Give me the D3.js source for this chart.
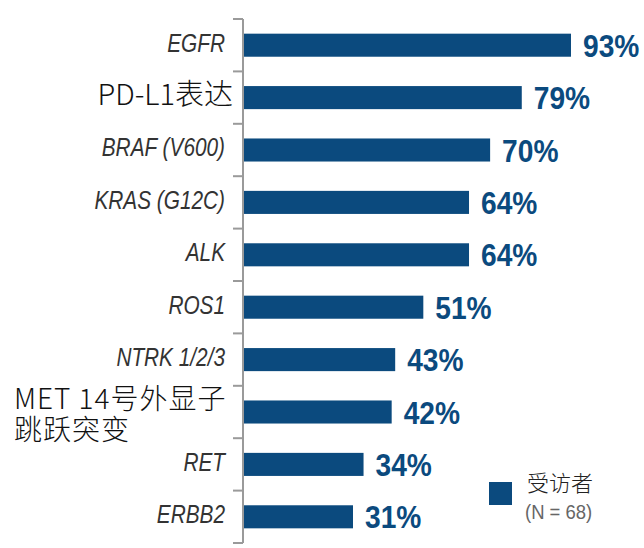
<!DOCTYPE html>
<html><head><meta charset="utf-8">
<script src="https://cdn.jsdelivr.net/npm/d3@7"></script>
<style>body{margin:0;background:#fff}</style>
</head><body>
<svg id="c" width="644" height="548"></svg>
<script>
const categories = ["EGFR","PD-L1表达","BRAF (V600)","KRAS (G12C)","ALK","ROS1","NTRK 1/2/3","MET 14号外显子\n跳跃突变","RET","ERBB2"];
const values = [93,79,70,64,64,51,43,42,34,31];
const legendLabel = "受访者";
const legendSub = "(N = 68)";

const svg = d3.select("#c");
const blue = "#0b4a7e";
const sans = "'Liberation Sans',Arial,sans-serif";
const cjk = "'Noto Sans CJK SC','Noto Sans',sans-serif";

const x = d3.scaleLinear().domain([0,100]).range([244,595.6]);
const y = d3.scaleBand().domain(categories).range([19,543]).paddingInner(0.56).paddingOuter(0.28);

// axis line + ticks
const step = y.step();
const tickYs = d3.range(categories.length+1).map(i => 19 + i*step);
svg.append("line").attr("x1",243).attr("x2",243).attr("y1",19).attr("y2",543)
  .attr("stroke","#9a9a9a").attr("stroke-width",2);
svg.selectAll(".tk").data(tickYs).join("line").attr("class","tk")
  .attr("x1",233).attr("x2",243).attr("y1",d=>d).attr("y2",d=>d)
  .attr("stroke","#9a9a9a").attr("stroke-width",2);

// bars
svg.selectAll(".bar").data(categories).join("rect").attr("class","bar")
  .attr("x",x(0)).attr("y",d=>y(d)).attr("height",y.bandwidth())
  .attr("width",(d,i)=>x(values[i])-x(0)).attr("fill",blue);

// value labels (condensed by horizontal scale)
svg.selectAll(".val").data(categories).join("text").attr("class","val")
  .attr("transform",(d,i)=>`translate(${x(values[i])+12},${y(d)+y.bandwidth()/2}) scale(0.88,1)`)
  .attr("dy","0.36em").attr("fill",blue)
  .style("font-family",sans).style("font-weight","bold").style("font-size","32px")
  .text((d,i)=>values[i]+"%");

// category labels
const isCJK = s => /[\u4e00-\u9fff]/.test(s);
categories.forEach(c => {
  const cy = y(c)+y.bandwidth()/2;
  if (isCJK(c)) {
    const lines = c.split("\n");
    if (lines.length > 1) {
      const t = svg.append("text").attr("x",15).attr("text-anchor","start")
        .style("font-family",cjk).style("font-size","28px").style("font-weight","300")
        .style("letter-spacing","1px").attr("fill","#111");
      lines.forEach((l,i)=>{
        t.append("tspan").attr("x",14).attr("y",cy + (i-(lines.length-1)/2)*31 + 2).attr("dy","0.36em").text(l);
      });
    } else {
      svg.append("text").attr("x",233).attr("y",cy-3).attr("dy","0.36em")
        .attr("text-anchor","end").style("font-family",cjk).style("font-size","29px").style("font-weight","300")
        .attr("fill","#111").text(c);
    }
  } else {
    svg.append("text").attr("transform",`translate(225,${cy-3}) scale(0.8,1)`).attr("dy","0.36em")
      .attr("text-anchor","end").style("font-family",sans).style("font-style","italic")
      .style("font-size","26px").attr("fill","#333").text(c);
  }
});

// legend
svg.append("rect").attr("x",489).attr("y",482).attr("width",23).attr("height",23).attr("fill",blue);
svg.append("text").attr("x",527).attr("y",483).attr("dy","0.36em").style("font-family",cjk)
  .style("font-size","22px").style("font-weight","300").attr("fill","#222").text(legendLabel);
svg.append("text").attr("transform","translate(525,511) scale(0.88,1)").attr("dy","0.36em").style("font-family",sans)
  .style("font-size","21px").attr("fill","#666").text(legendSub);
</script>
</body></html>
